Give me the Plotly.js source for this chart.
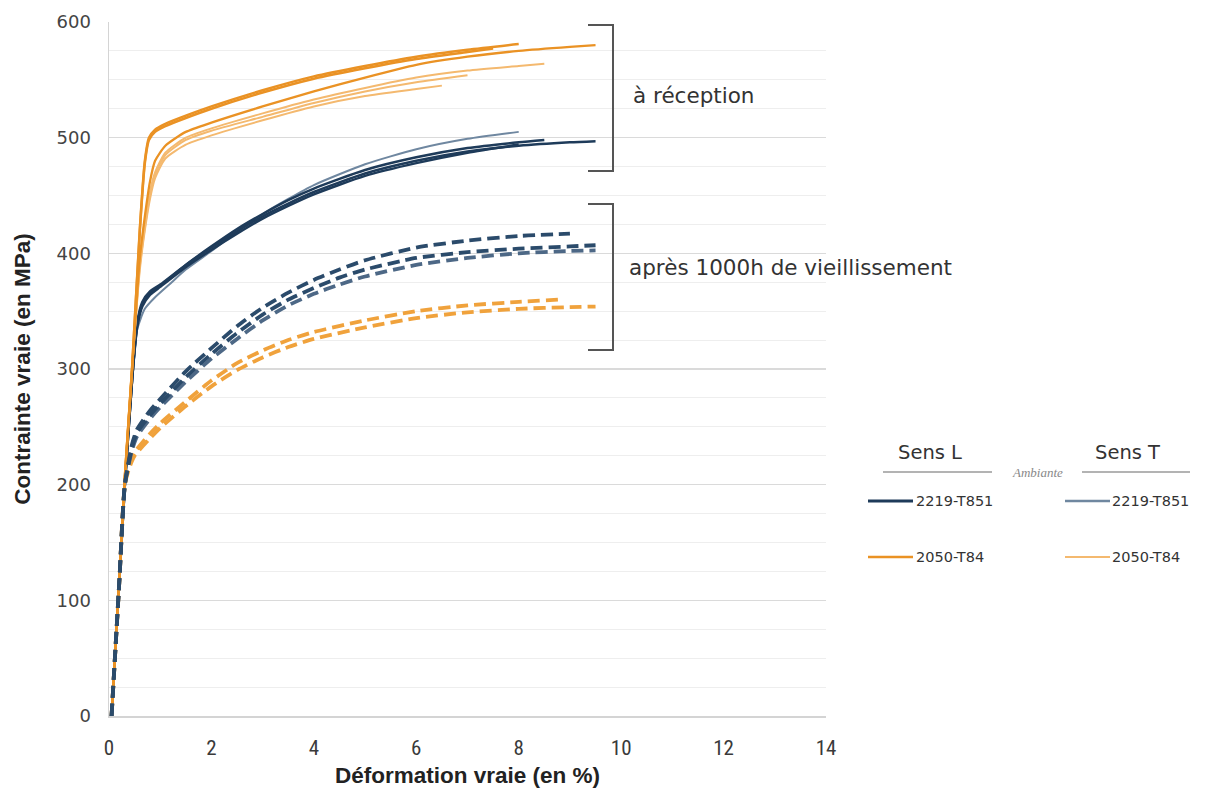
<!DOCTYPE html>
<html>
<head>
<meta charset="utf-8">
<script src="https://cdn.plot.ly/plotly-3.0.1.min.js"></script>
<style>html,body{margin:0;padding:0;background:#fff;}#chart{width:1207px;height:791px;}</style>
</head>
<body>
<div id="chart"></div>
<script>
// ---------- DATA (strain in %, stress in MPa) ----------
// 2219-T851, sens L, as received (solid, dark blue)
const strain_2219L_a = [0.05,0.2,0.31,0.45,0.55,0.65,0.8,1,1.5,2,2.5,3,3.5,4,5,6,7,8,9,9.5];
const stress_2219L_a = [0,115,200,290,340,358,367,373,390,405,419,432,443,453,469,480,488,493,496,497];
const strain_2219L_b = [0.05,0.2,0.31,0.45,0.55,0.65,0.8,1,1.5,2,2.5,3,3.5,4,5,6,7,8,8.5];
const stress_2219L_b = [0,115,200,290,338,356,366,372,390,406,421,434,446,456,472,483,491,496,498];
const strain_2219L_c = [0.05,0.2,0.31,0.45,0.55,0.65,0.8,1,1.5,2,2.5,3,3.5,4,5,6,7,8];
const stress_2219L_c = [0,115,200,290,336,354,364,371,388,403,417,430,441,451,467,478,487,494];
// 2219-T851, sens T, as received (solid, light blue)
const strain_2219T_a = [0.05,0.2,0.31,0.45,0.55,0.7,0.9,1.2,1.5,2,2.5,3,3.5,4,5,6,7,8];
const stress_2219T_a = [0,115,200,288,334,352,362,374,386,402,419,434,447,459,477,490,499,505];
// 2050-T84, sens L, as received (solid, dark orange)
const strain_2050L_a = [0.05,0.2,0.31,0.45,0.6,0.7,0.78,0.9,1.1,1.5,2,3,4,5,6,7,8];
const stress_2050L_a = [0,120,207,300,420,480,500,507,512,519,527,541,553,562,570,576,581];
const strain_2050L_b = [0.05,0.2,0.31,0.45,0.6,0.7,0.78,0.9,1.1,1.5,2,3,4,5,6,7,7.5];
const stress_2050L_b = [0,120,207,300,418,478,498,505,510,517,525,539,551,560,568,574,577];
const strain_2050L_c = [0.05,0.2,0.31,0.45,0.6,0.7,0.8,0.9,1.1,1.5,2,3,4,5,6,7,8,9,9.5];
const stress_2050L_c = [0,120,207,300,395,432,462,480,493,505,513,527,540,552,563,570,575,578.5,580];
// 2050-T84, sens T, as received (solid, light orange)
const strain_2050T_a = [0.05,0.2,0.31,0.45,0.6,0.7,0.8,0.9,1.1,1.5,2,3,4,5,6,7,8,8.5];
const stress_2050T_a = [0,120,207,300,390,425,453,470,487,500,508,521,533,543,552,558,562,564];
const strain_2050T_b = [0.05,0.2,0.31,0.45,0.6,0.7,0.8,0.9,1.1,1.5,2,3,4,5,6,7];
const stress_2050T_b = [0,120,207,300,388,422,450,468,485,498,506,518,530,540,548,554];
const strain_2050T_c = [0.05,0.2,0.31,0.45,0.6,0.7,0.8,0.9,1.1,1.5,2,3,4,5,6,6.5];
const stress_2050T_c = [0,120,207,300,385,420,447,465,482,494,502,515,527,536,542,545];
// 2219-T851 after 1000h ageing (dashed, blue)
const strain_2219A_a = [0.05,0.2,0.31,0.45,0.55,0.8,1,1.5,2,2.5,3,3.5,4,4.5,5,6,7,8,9];
const stress_2219A_a = [0,115,200,235,248,264,274,298,318,337,353,366,377,386,394,405,411,415,417];
const strain_2219A_b = [0.05,0.2,0.31,0.45,0.55,0.8,1,1.5,2,2.5,3,3.5,4,4.5,5,6,7,8,9,9.5];
const stress_2219A_b = [0,115,200,232,245,260,270,293,313,331,347,360,370,379,386,396,401,404,406,407];
const strain_2219A_c = [0.05,0.2,0.31,0.45,0.55,0.8,1,1.5,2,2.5,3,3.5,4,4.5,5,6,7,8,9,9.5];
const stress_2219A_c = [0,115,200,230,242,257,267,289,309,326,342,355,365,373,380,390,396,400,402,402.5];
// 2050-T84 after 1000h ageing (dashed, orange)
const strain_2050A_a = [0.05,0.2,0.31,0.4,0.5,0.8,1,1.5,2,2.5,3,3.5,4,5,6,7,8,8.8];
const stress_2050A_a = [0,115,200,218,228,244,253,272,290,305,316,325,332,342,350,355,358,360];
const strain_2050A_b = [0.05,0.2,0.31,0.4,0.5,0.8,1,1.5,2,2.5,3,3.5,4,5,6,7,8,9,9.5];
const stress_2050A_b = [0,115,200,215,225,240,249,268,285,299,310,319,326,336,344,349,352,353.5,354];

// ---------- TEXT ----------
const xTitle = 'Déformation vraie (en %)';
const yTitle = 'Contrainte vraie (en MPa)';
const groupLabels = ['à réception', 'après 1000h de vieillissement'];
const legendHeaders = ['Sens L', 'Sens T'];
const legendSub = 'Ambiante';
const legendNames = ['2219-T851', '2050-T84'];

// ---------- STYLE ----------
const C_BLUE_L = '#1e3b5a';
const C_BLUE_T = '#6f87a0';
const C_OR_L = '#ea9224';
const C_OR_T = '#f4b96f';
const C_BLUE_D = '#2b4b6b';
const C_BLUE_D2 = '#4d6886';
const C_OR_D = '#f0a23c';

function tr(x, y, color, width, dash) {
  return {x: x, y: y, type: 'scatter', mode: 'lines', showlegend: false, hoverinfo: 'skip',
          line: {color: color, width: width, dash: dash || 'solid', shape: 'spline', smoothing: 0.6}};
}
const DASH = '12px,6px';
const traces = [
  tr(strain_2219T_a, stress_2219T_a, C_BLUE_T, 2),
  tr(strain_2219L_c, stress_2219L_c, C_BLUE_L, 2.5),
  tr(strain_2219L_b, stress_2219L_b, C_BLUE_L, 2.5),
  tr(strain_2219L_a, stress_2219L_a, C_BLUE_L, 2.5),
  tr(strain_2050T_c, stress_2050T_c, C_OR_T, 2),
  tr(strain_2050T_b, stress_2050T_b, C_OR_T, 2),
  tr(strain_2050T_a, stress_2050T_a, C_OR_T, 2),
  tr(strain_2050L_c, stress_2050L_c, C_OR_L, 2.3),
  tr(strain_2050L_b, stress_2050L_b, C_OR_L, 2.5),
  tr(strain_2050L_a, stress_2050L_a, C_OR_L, 2.5),
  tr(strain_2050A_b, stress_2050A_b, C_OR_D, 3.8, DASH),
  tr(strain_2050A_a, stress_2050A_a, C_OR_D, 3.8, DASH),
  tr(strain_2219A_c, stress_2219A_c, C_BLUE_D2, 3.8, DASH),
  tr(strain_2219A_b, stress_2219A_b, C_BLUE_D, 3.8, DASH),
  tr(strain_2219A_a, stress_2219A_a, C_BLUE_D, 3.8, DASH)
];

const W = 1207, H = 791, ML = 109, MR = 381, MT = 22, MB = 75;
const PW = W - ML - MR, PH = H - MT - MB;
const px = v => (v - ML) / PW;
const py = v => (H - MB - v) / PH;

const bracketColor = '#555555';
const shapes = [];
function bracket(top, bot) {
  shapes.push({type: 'line', xref: 'paper', yref: 'paper', x0: px(613), x1: px(613), y0: py(top), y1: py(bot), line: {color: bracketColor, width: 2}});
  shapes.push({type: 'line', xref: 'paper', yref: 'paper', x0: px(588), x1: px(614), y0: py(top), y1: py(top), line: {color: bracketColor, width: 2}});
  shapes.push({type: 'line', xref: 'paper', yref: 'paper', x0: px(588), x1: px(614), y0: py(bot), y1: py(bot), line: {color: bracketColor, width: 2}});
}
bracket(25, 171);
bracket(204, 350);
// legend separator lines
shapes.push({type: 'line', xref: 'paper', yref: 'paper', x0: px(883), x1: px(992), y0: py(472), y1: py(472), line: {color: '#9a9a9a', width: 1.5}});
shapes.push({type: 'line', xref: 'paper', yref: 'paper', x0: px(1082), x1: px(1190), y0: py(472), y1: py(472), line: {color: '#9a9a9a', width: 1.5}});
// legend samples
const legendRows = [
  {y: 501, cL: C_BLUE_L, wL: 3, cT: C_BLUE_T, wT: 2.5, name: legendNames[0]},
  {y: 557, cL: C_OR_L, wL: 2.5, cT: C_OR_T, wT: 2, name: legendNames[1]}
];
const SANS = '"DejaVu Sans", sans-serif';
const annotations = [];
legendRows.forEach(r => {
  shapes.push({type: 'line', xref: 'paper', yref: 'paper', x0: px(868), x1: px(913), y0: py(r.y), y1: py(r.y), line: {color: r.cL, width: r.wL}});
  shapes.push({type: 'line', xref: 'paper', yref: 'paper', x0: px(1065), x1: px(1110), y0: py(r.y), y1: py(r.y), line: {color: r.cT, width: r.wT}});
  annotations.push({xref: 'paper', yref: 'paper', x: px(914), y: py(r.y), xanchor: 'left', yanchor: 'middle', showarrow: false, text: r.name, font: {family: SANS, size: 14.5, color: '#333'}});
  annotations.push({xref: 'paper', yref: 'paper', x: px(1110), y: py(r.y), xanchor: 'left', yanchor: 'middle', showarrow: false, text: r.name, font: {family: SANS, size: 14.5, color: '#333'}});
});
annotations.push({xref: 'paper', yref: 'paper', x: px(930), y: py(452), xanchor: 'center', yanchor: 'middle', showarrow: false, text: legendHeaders[0], font: {family: SANS, size: 19.5, color: '#333'}});
annotations.push({xref: 'paper', yref: 'paper', x: px(1127), y: py(452), xanchor: 'center', yanchor: 'middle', showarrow: false, text: legendHeaders[1], font: {family: SANS, size: 19.5, color: '#333'}});
annotations.push({xref: 'paper', yref: 'paper', x: px(1037), y: py(472), xanchor: 'center', yanchor: 'middle', showarrow: false, text: '<i>' + legendSub + '</i>', font: {family: 'Liberation Serif, serif', size: 13, color: '#888'}});
annotations.push({xref: 'paper', yref: 'paper', x: px(631), y: py(96), xanchor: 'left', yanchor: 'middle', showarrow: false, text: groupLabels[0], font: {family: SANS, size: 21.5, color: '#333'}});
annotations.push({xref: 'paper', yref: 'paper', x: px(627), y: py(267), xanchor: 'left', yanchor: 'middle', showarrow: false, text: groupLabels[1], font: {family: SANS, size: 21.5, color: '#333'}});

const condensed = '"Liberation Sans Narrow", "Arial Narrow", "Roboto Condensed", sans-serif';
const TITLEF = '"Liberation Sans", Arial, sans-serif';
const layout = {
  width: W, height: H,
  margin: {l: ML, r: MR, t: MT, b: MB, pad: 0},
  paper_bgcolor: '#ffffff', plot_bgcolor: '#ffffff',
  showlegend: false,
  xaxis: {
    range: [0, 14], dtick: 2, tick0: 0, showgrid: false, zeroline: false,
    showline: true, linecolor: '#d4d4d4', linewidth: 1.5, ticks: '',
    ticklabelstandoff: 12,
    tickfont: {family: condensed, size: 21, color: '#3a3a3a'},
    title: {text: '<b>' + xTitle + '</b>', font: {family: TITLEF, size: 22.5, color: '#222'}, standoff: 8}
  },
  yaxis: {
    range: [0, 600], dtick: 100, tick0: 0, showgrid: true, gridcolor: '#dadada', gridwidth: 1.2,
    zeroline: false, showline: true, linecolor: '#d4d4d4', linewidth: 1.5, ticks: '',
    ticklabelstandoff: 13,
    minor: {dtick: 25, showgrid: true, gridcolor: '#eeeeee', gridwidth: 1},
    tickfont: {family: SANS, size: 18, color: '#444'},
    title: {text: '<b>' + yTitle + '</b>', font: {family: TITLEF, size: 22.5, color: '#222'}, standoff: 19}
  },
  shapes: shapes,
  annotations: annotations
};

Plotly.newPlot('chart', traces, layout, {staticPlot: true, displayModeBar: false});
</script>
</body>
</html>
